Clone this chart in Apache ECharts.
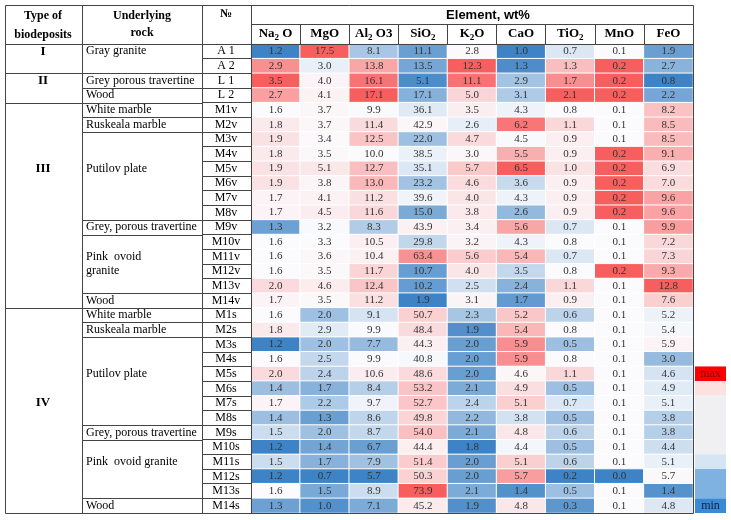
<!DOCTYPE html>
<html><head><meta charset="utf-8">
<script src="https://cdn.jsdelivr.net/npm/echarts@6/dist/echarts.min.js"></script>
<style>html,body{margin:0;padding:0;background:#fff}#c{width:731px;height:520px}</style>
</head><body><div id="c"></div>
<script>
// ================= DATA =================
const elements = ['Na2O','MgO','Al2O3','SiO2','K2O','CaO','TiO2','MnO','FeO'];
const elementHeaders = ['{t|Na}{s|2}{t| O}','{t|MgO}','{t|Al}{s|2}{t| O3}','{t|SiO}{s|2}','{t|K}{s|2}{t|O}','{t|CaO}','{t|TiO}{s|2}','{t|MnO}','{t|FeO}'];
const sampleIds = ['A 1','A 2','L 1','L 2',
  'M1v','M2v','M3v','M4v','M5v','M6v','M7v','M8v','M9v','M10v','M11v','M12v','M13v','M14v',
  'M1s','M2s','M3s','M4s','M5s','M6s','M7s','M8s','M9s','M10s','M11s','M12s','M13s','M14s'];
const types = ['I','II','III','IV'];
const typeRowCounts = [2,2,14,14];
const rocks = ['Gray granite','Grey porous travertine','Wood','White marble','Ruskeala marble','Putilov plate',
  'Grey, porous travertine','Pink  ovoid\ngranite','Wood','White marble','Ruskeala marble','Putilov plate',
  'Grey, porous travertine','Pink  ovoid granite','Wood'];
const rockRowCounts = [2,1,1,1,1,6,1,4,1,1,1,6,1,4,1];

const na2o  = [1.2,2.9,3.5,2.7, 1.6,1.8,1.9,1.8,1.9,1.9,1.7,1.7,1.3,1.6,1.6,1.6,2.0,1.7, 1.6,1.8,1.2,1.6,2.0,1.4,1.7,1.4,1.5,1.2,1.5,1.2,1.6,1.3];
const mgo   = [17.5,3.0,4.0,4.1, 3.7,3.7,3.4,3.5,5.1,3.8,4.1,4.5,3.2,3.3,3.6,3.5,4.6,3.5, 2.0,2.9,2.0,2.5,2.4,1.7,2.2,1.3,2.0,1.4,1.7,0.7,1.5,1.0];
const al2o3 = [8.1,13.8,16.1,17.1, 9.9,11.4,12.5,10.0,12.7,13.0,11.2,11.6,8.3,10.5,10.4,11.7,12.4,11.2, 9.1,9.9,7.7,9.9,10.6,8.4,9.7,8.6,8.7,6.7,7.9,5.7,8.9,7.1];
const sio2  = [11.1,13.5,5.1,17.1, 36.1,42.9,22.0,38.5,35.1,23.2,39.6,15.0,43.9,29.8,63.4,10.7,10.2,1.9, 50.7,48.4,44.3,40.8,48.6,53.2,52.7,49.8,54.0,44.4,51.4,50.3,73.9,45.2];
const k2o   = [2.8,12.3,11.1,5.0, 3.5,2.6,4.7,3.0,5.7,4.6,4.0,3.8,3.4,3.2,5.6,4.0,2.5,3.1, 2.3,1.9,2.0,2.0,2.0,2.1,2.4,2.2,2.1,1.8,2.0,2.0,2.1,1.9];
const cao   = [1.0,1.3,2.9,3.1, 4.3,6.2,4.5,5.5,6.5,3.6,4.3,2.6,5.6,4.3,5.4,3.5,2.4,1.7, 5.2,5.4,5.9,5.9,4.6,4.9,5.1,3.8,4.8,4.4,5.1,5.7,1.4,4.8];
const tio2  = [0.7,1.3,1.7,2.1, 0.8,1.1,0.9,0.9,1.0,0.9,0.9,0.9,0.7,0.8,0.7,0.8,1.1,0.9, 0.6,0.8,0.5,0.8,1.1,0.5,0.7,0.5,0.6,0.5,0.6,0.2,0.5,0.3];
const mno   = [0.1,0.2,0.2,0.2, 0.1,0.1,0.1,0.2,0.2,0.2,0.2,0.2,0.1,0.1,0.1,0.2,0.1,0.1, 0.1,0.1,0.1,0.1,0.1,0.1,0.1,0.1,0.1,0.1,0.1,0.0,0.1,0.1];
const feo   = [1.9,2.7,0.8,2.2, 8.2,8.5,8.5,9.1,6.9,7.0,9.6,9.6,9.9,7.2,7.3,9.3,12.8,7.6, 5.2,5.4,5.9,3.0,4.6,4.9,5.1,3.8,3.8,4.4,5.1,5.7,1.4,4.8];
const columns = [na2o,mgo,al2o3,sio2,k2o,cao,tio2,mno,feo];

// ================= LAYOUT / STYLE =================
const LINE = '#444';
const SERIF = '"Liberation Serif","Times New Roman",serif';
const SANS = '"Liberation Sans",Arial,sans-serif';
const SCALE = ['#3e83c5', '#fbfbfd', '#f75e5e'];
const L = {tableLeft:5, tableTop:5, typeRight:82, rockRight:202, headerSplit:24,
  typeX:43, rockX:86, idX:226,
  typeLabelOffset:[0,0,4,6],
  rockLabelOffset:[0,0,0,0,0,2,0,1.5,0,0,0,2,0,1,0],
  legendX:695, legendW:31};
const legendCells = [ // [row index, row count, color, text, textColor]
  [22,1,'#ff0000','max','#7a0a0a'],[23,1,'#fde0e0','',''],[24,4,'#f0f0f2','',''],
  [28,1,'#d6e5f4','',''],[29,2,'#7fb1e1','',''],[31,1,'#3a8ad6','min','#14203a']];

// ================= BUILD =================
function median(a){const s=[...a].sort((x,y)=>x-y);const n=s.length;return n%2?s[(n-1)/2]:(s[n/2-1]+s[n/2])/2;}
const data=[];
columns.forEach((col,c)=>{
  const mn=Math.min(...col), mx=Math.max(...col), md=median(col);
  col.forEach((v,r)=>{
    let t = v>=md ? (mx>md?(v-md)/(mx-md):0) : (md>mn?(v-md)/(md-mn):0);
    data.push([c,r,t,v]);
  });
});

const chart = echarts.init(document.getElementById('c'), null, {renderer:'canvas'});
chart.setOption({
  animation:false,
  backgroundColor:'#fff',
  grid:{left:251,right:38,top:44,bottom:7,containLabel:false},
  xAxis:{type:'category',data:elements,position:'top',z:5,
    axisLine:{show:true,lineStyle:{color:LINE,width:1}},
    axisTick:{show:true,length:20,interval:0,lineStyle:{color:LINE,width:1}},
    splitLine:{show:false},
    axisLabel:{interval:0,margin:10,verticalAlign:'middle',
      formatter:(v,i)=>elementHeaders[i],
      rich:{t:{fontFamily:SERIF,fontWeight:'bold',fontSize:13,color:'#000',lineHeight:16,verticalAlign:'middle'},
            s:{fontFamily:SERIF,fontWeight:'bold',fontSize:9,color:'#000',lineHeight:8,verticalAlign:'bottom'}}}},
  yAxis:{type:'category',data:sampleIds,inverse:true,z:5,
    axisLine:{show:true,lineStyle:{color:LINE,width:1}},
    axisTick:{show:true,length:49,interval:0,lineStyle:{color:LINE,width:1}},
    splitLine:{show:false},
    axisLabel:{interval:0,align:'center',margin:25,fontFamily:SERIF,fontSize:12,color:'#000'}},
  visualMap:{show:false,dimension:2,min:-1,max:1,seriesIndex:0,inRange:{color:SCALE}},
  series:[{type:'heatmap',data:data,
    itemStyle:{borderColor:'#fff',borderWidth:1},
    label:{show:true,formatter:p=>p.data[3].toFixed(1),fontFamily:SERIF,fontSize:11,color:'#333'},
    emphasis:{disabled:true}}]
});

// table decoration computed from the axes
const yc = r => chart.convertToPixel({yAxisIndex:0}, sampleIds[r]);
const xc = c => chart.convertToPixel({xAxisIndex:0}, elements[c]);
const rowH = yc(1)-yc(0), colW = xc(1)-xc(0);
const rowTop = r => yc(0)-rowH/2 + r*rowH;
const gx0 = xc(0)-colW/2, gx1 = xc(elements.length-1)+colW/2;
const gy0 = rowTop(0), gy1 = rowTop(sampleIds.length);
const px = v => Math.round(v)+0.5;
const g=[];
function line(x1,y1,x2,y2){g.push({type:'line',z:100,shape:{x1:px(x1),y1:px(y1),x2:px(x2),y2:px(y2)},style:{stroke:LINE,lineWidth:1}});}
function text(t,x,y,o){g.push({type:'text',z:101,style:Object.assign({text:t,x:x,y:y,fill:'#000',fontFamily:SERIF,fontSize:12,
  align:'center',verticalAlign:'middle',textAlign:'center',textVerticalAlign:'middle'},o||{})});}
// frame
line(L.tableLeft,L.tableTop,gx1,L.tableTop);
line(L.tableLeft,gy1,gx1,gy1);
line(L.tableLeft,L.tableTop,L.tableLeft,gy1);
line(gx1,L.tableTop,gx1,gy1);
line(L.typeRight,L.tableTop,L.typeRight,gy1);
line(L.rockRight,L.tableTop,L.rockRight,gy1);
line(gx0,L.tableTop,gx0,gy1);
line(L.tableLeft,gy0,gx1,gy0);
line(gx0,L.headerSplit,gx1,L.headerSplit);
// header texts
text('Type of',L.typeX,16,{fontWeight:'bold'});
text('biodeposits',L.typeX,35,{fontWeight:'bold'});
text('Underlying',(L.typeRight+L.rockRight)/2,16,{fontWeight:'bold'});
text('rock',(L.typeRight+L.rockRight)/2,33,{fontWeight:'bold'});
text('№',L.idX,14,{fontWeight:'bold'});
text('Element, wt%',(gx0+gx1)/2+16,15,{fontWeight:'bold',fontFamily:SANS,fontSize:13});
// type groups
let r0=0;
types.forEach((t,i)=>{
  const n=typeRowCounts[i];
  if(r0>0) line(L.tableLeft,rowTop(r0),L.typeRight,rowTop(r0));
  text(t,L.typeX,yc(r0+L.typeLabelOffset[i]) + (L.typeLabelOffset[i]%1?rowH/2:0),{fontWeight:'bold',fontSize:13});
  r0+=n;
});
// rock groups
r0=0;
rocks.forEach((t,i)=>{
  const n=rockRowCounts[i], off=L.rockLabelOffset[i];
  if(r0>0) line(L.typeRight,rowTop(r0),L.rockRight,rowTop(r0));
  const y = rowTop(r0)+(off+0.5)*rowH;
  text(t,L.rockX,y,{align:'left',textAlign:'left',lineHeight:rowH});
  r0+=n;
});
// colour-scale key
legendCells.forEach(([r,n,col,t,tc])=>{
  g.push({type:'rect',z:99,shape:{x:L.legendX,y:rowTop(r),width:L.legendW,height:n*rowH},style:{fill:col}});
  if(t) text(t,L.legendX+L.legendW/2,rowTop(r)+n*rowH/2,{fill:tc,fontSize:12});
});
chart.setOption({graphic:g});
</script></body></html>
